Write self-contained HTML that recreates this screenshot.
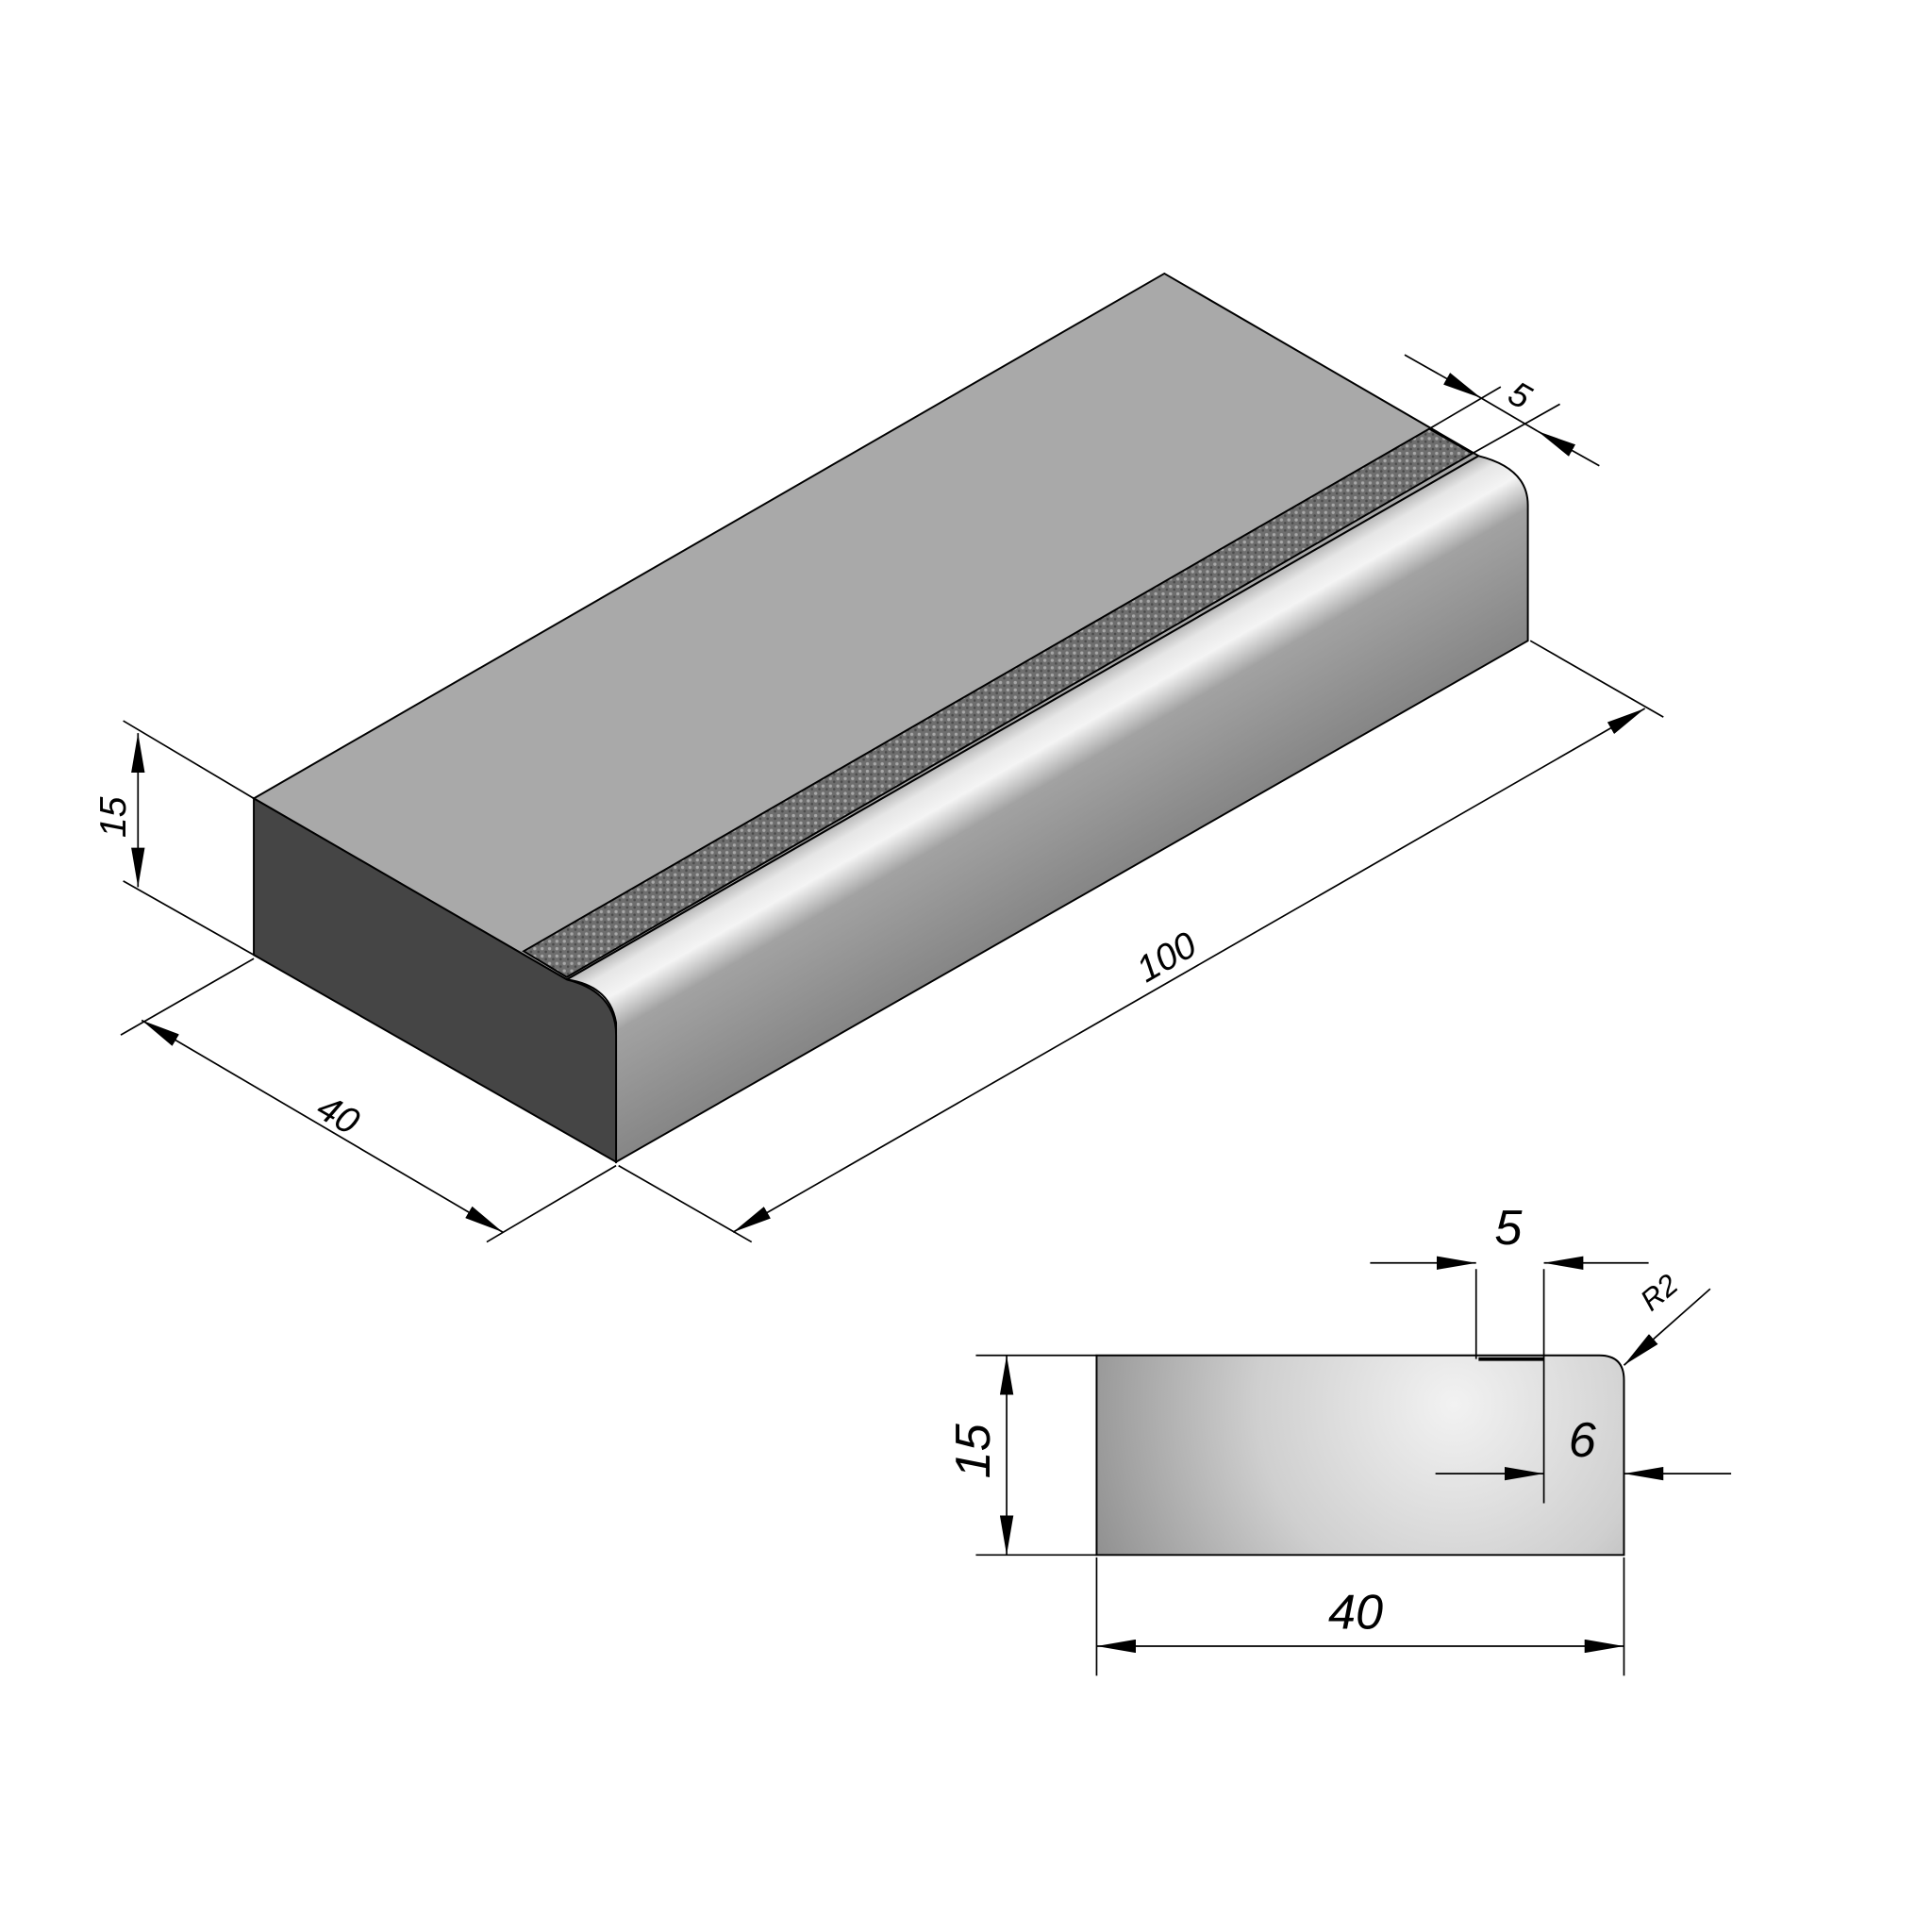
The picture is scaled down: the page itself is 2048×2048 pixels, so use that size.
<!DOCTYPE html>
<html><head><meta charset="utf-8"><style>
html,body{margin:0;padding:0;background:#fff;}
svg{display:block;}
text{font-family:"Liberation Sans",sans-serif;font-style:italic;fill:#000;}
</style></head><body>
<svg width="2048" height="2048" viewBox="0 0 1568 1568" xmlns="http://www.w3.org/2000/svg">
<defs>
<marker id="a" viewBox="0 0 32 11" refX="32" refY="5.5" markerWidth="32" markerHeight="11" markerUnits="userSpaceOnUse" orient="auto-start-reverse"><path d="M0,0 L32,5.5 L0,11 Z" fill="#000"/></marker>
<linearGradient id="side" gradientUnits="userSpaceOnUse" x1="850" y1="571" x2="924" y2="700">
<stop offset="0" stop-color="#b8b8b8"/><stop offset="0.08" stop-color="#e6e6e6"/><stop offset="0.2" stop-color="#f4f4f4"/><stop offset="0.38" stop-color="#a2a2a2"/><stop offset="1" stop-color="#868686"/></linearGradient>
<radialGradient id="sec" gradientUnits="userSpaceOnUse" cx="1180" cy="1140" r="320">
<stop offset="0" stop-color="#f2f2f2"/><stop offset="0.5" stop-color="#cfcfcf"/><stop offset="1" stop-color="#8e8e8e"/></radialGradient>
<pattern id="gr" width="6" height="6" patternUnits="userSpaceOnUse"><rect width="6" height="6" fill="#6e6e6e"/><circle cx="2" cy="2" r="1.3" fill="#a8a8a8"/><circle cx="5" cy="4.5" r="1" fill="#4a4a4a"/></pattern>
</defs>
<polygon points="206,648 945,222 1200,370 460,795" fill="#a9a9a9" stroke="#000" stroke-width="1.5"/>
<path d="M460,795 L1200,370 Q1240,380 1240,410 L1240,520 L500,943 L500,830 Q495,800 460,795 Z" fill="url(#side)" stroke="#000" stroke-width="1.5"/>
<polygon points="425,772 1160,348 1195,368 460,793" fill="url(#gr)" stroke="#000" stroke-width="1.5"/>
<path d="M206,648 L460,795 Q500,805 500,840 L500,943 L206,775 Z" fill="#454545" stroke="#000" stroke-width="1.5"/>
<g stroke="#000" stroke-width="1.3" fill="none">
<line x1="100" y1="585" x2="206" y2="648"/><line x1="100" y1="715" x2="206" y2="775"/>
<line x1="112" y1="595" x2="112" y2="720" marker-start="url(#a)" marker-end="url(#a)"/>
<line x1="206" y1="778" x2="98" y2="840"/><line x1="500" y1="946" x2="395" y2="1008"/>
<line x1="115" y1="828" x2="408" y2="1000" marker-start="url(#a)" marker-end="url(#a)"/>
<line x1="502" y1="946" x2="610" y2="1008"/><line x1="1242" y1="520" x2="1350" y2="582"/>
<line x1="595" y1="1000" x2="1335" y2="575" marker-start="url(#a)" marker-end="url(#a)"/>
<line x1="1160" y1="348" x2="1218" y2="314"/><line x1="1195" y1="368" x2="1266" y2="328"/>
<line x1="1140" y1="288" x2="1202" y2="323" marker-end="url(#a)"/>
<line x1="1298" y1="378" x2="1248" y2="350" marker-end="url(#a)"/>
<line x1="1202" y1="323" x2="1248" y2="350"/>
</g>
<text x="0" y="0" font-size="30" transform="translate(102,680) rotate(-90)">15</text>
<text x="0" y="0" font-size="30" transform="translate(255,905) rotate(30)">40</text>
<text x="0" y="0" font-size="30" transform="translate(930,798) rotate(-30)">100</text>
<text x="0" y="0" font-size="28" transform="translate(1222,325) rotate(30)">5</text>
<path d="M890,1100 L1298,1100 Q1318,1100 1318,1120 L1318,1262 L890,1262 Z" fill="url(#sec)" stroke="#000" stroke-width="1.5"/>
<g stroke="#000" stroke-width="1.3" fill="none">
<line x1="1198" y1="1030" x2="1198" y2="1103"/><line x1="1253" y1="1030" x2="1253" y2="1220"/>
<line x1="1200" y1="1103" x2="1253" y2="1103" stroke-width="3"/>
<line x1="1112" y1="1025" x2="1198" y2="1025" marker-end="url(#a)"/>
<line x1="1338" y1="1025" x2="1253" y2="1025" marker-end="url(#a)"/>
<line x1="1165" y1="1196" x2="1253" y2="1196" marker-end="url(#a)"/>
<line x1="1405" y1="1196" x2="1318" y2="1196" marker-end="url(#a)"/>
<line x1="792" y1="1100" x2="890" y2="1100"/><line x1="792" y1="1262" x2="890" y2="1262"/>
<line x1="817" y1="1100" x2="817" y2="1262" marker-start="url(#a)" marker-end="url(#a)"/>
<line x1="890" y1="1264" x2="890" y2="1360"/><line x1="1318" y1="1264" x2="1318" y2="1360"/>
<line x1="890" y1="1336" x2="1318" y2="1336" marker-start="url(#a)" marker-end="url(#a)"/>
<line x1="1388" y1="1046" x2="1318" y2="1108" marker-end="url(#a)"/>
</g>
<text x="1213" y="1010" font-size="40">5</text>
<text x="1273" y="1182" font-size="40">6</text>
<text x="0" y="0" font-size="40" transform="translate(803,1200) rotate(-90)">15</text>
<text x="1078" y="1322" font-size="40">40</text>
<text x="0" y="0" font-size="24" transform="translate(1340,1065) rotate(-40)">R2</text>
</svg>
</body></html>
